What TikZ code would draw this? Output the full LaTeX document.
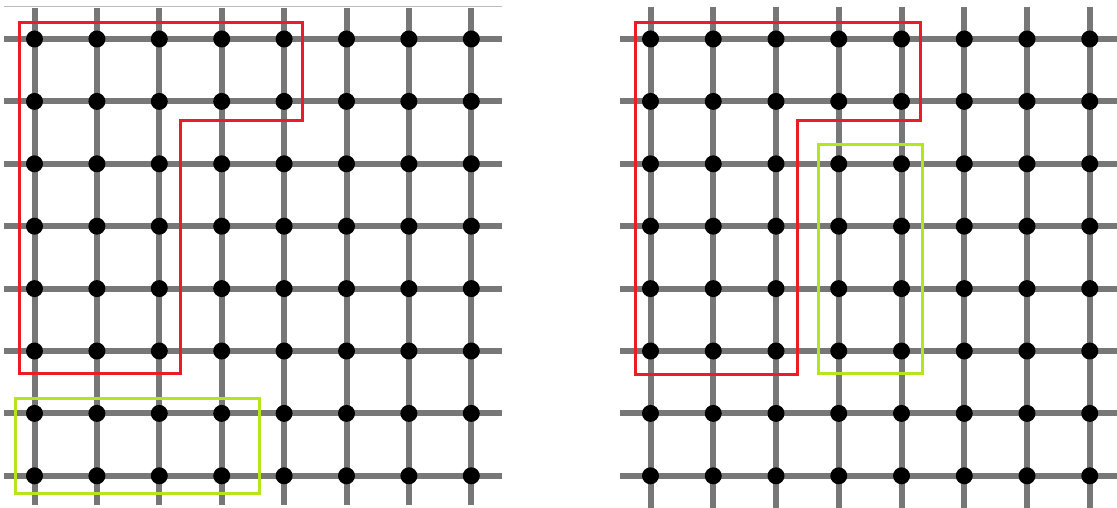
\documentclass[tikz,border=0pt]{standalone}
\definecolor{gridgray}{HTML}{777777}
\definecolor{hairgray}{HTML}{BBBBBB}
\definecolor{redline}{HTML}{EC1C24}
\definecolor{greenline}{HTML}{B5E61D}
\tikzset{
  gridline/.style={draw=gridgray,line width=6pt},
  dot/.style={circle,fill=black,inner sep=0pt,minimum size=17pt},
  redbox/.style={draw=redline,line width=3pt},
  greenbox/.style={draw=greenline,line width=3pt},
}
\begin{document}
\begin{tikzpicture}[x=1pt,y=-1pt]
\useasboundingbox (0,0) rectangle (1117,508);
\fill[white] (0,0) rectangle (1117,508);
% thin top line
\draw[hairgray,line width=1pt] (4,7) -- (502,7);
% left grid
\foreach \i in {0,...,7}{
  \pgfmathsetmacro{\xx}{34.5+62.4*\i}
  \pgfmathsetmacro{\yy}{39+62.4*\i}
  \draw[gridline] (\xx,8) -- (\xx,505);
  \draw[gridline] (4,\yy) -- (502,\yy);
}
% right grid
\foreach \i in {0,...,7}{
  \pgfmathsetmacro{\xx}{650.5+62.75*\i}
  \pgfmathsetmacro{\yy}{39+62.4*\i}
  \draw[gridline] (\xx,7) -- (\xx,508);
  \draw[gridline] (620,\yy) -- (1117,\yy);
}
% dots
\foreach \i in {0,...,7}{
  \foreach \j in {0,...,7}{
    \node[dot] (L-\i-\j) at ({34.5+62.4*\i},{39+62.4*\j}) {};
    \node[dot] (R-\i-\j) at ({650.5+62.75*\i},{39+62.4*\j}) {};
  }
}
% left outlines
\draw[redbox] (19,22.5) -- (302,22.5) -- (302,120.7) -- (180.5,120.7) -- (180.5,373) -- (19,373) -- cycle;
\draw[greenbox] (15.5,398) rectangle (259.5,493);
% right outlines
\draw[redbox] (635,22.5) -- (920.5,22.5) -- (920.5,120.7) -- (797.5,120.7) -- (797.5,374) -- (635,374) -- cycle;
\draw[greenbox] (818,145) rectangle (922.5,373);
\end{tikzpicture}
\end{document}
